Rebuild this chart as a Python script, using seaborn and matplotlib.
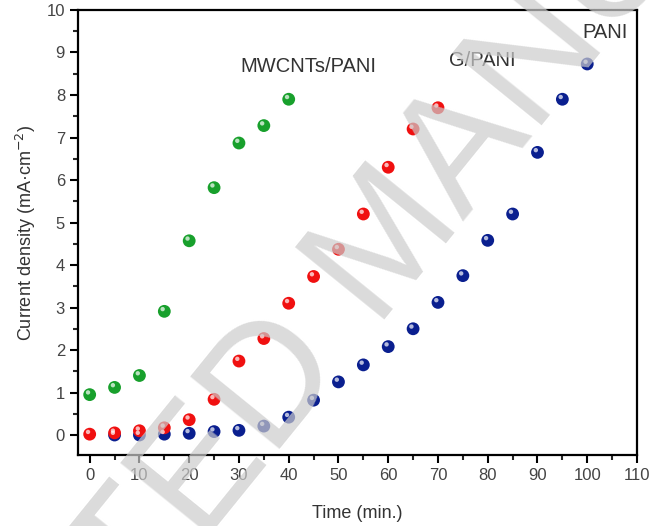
import numpy as np
import pandas as pd
import matplotlib
matplotlib.use("Agg")
import matplotlib.pyplot as plt
import matplotlib.transforms as mtransforms
from matplotlib.ticker import MultipleLocator
import seaborn as sns

# values
time_mw = [0, 5, 10, 15, 20, 25, 30, 35, 40]
mwcnt_pani = [0.95, 1.12, 1.40, 2.91, 4.57, 5.82, 6.87, 7.28, 7.90]

time_g = [0, 5, 10, 15, 20, 25, 30, 35, 40, 45, 50, 55, 60, 65, 70]
g_pani = [0.02, 0.05, 0.10, 0.17, 0.36, 0.84, 1.74, 2.27, 3.10, 3.73, 4.37, 5.20, 6.30, 7.20, 7.70]

time_p = [5, 10, 15, 20, 25, 30, 35, 40, 45, 50, 55, 60, 65, 70, 75, 80, 85, 90, 95, 100]
pani = [0.0, 0.0, 0.02, 0.04, 0.08, 0.11, 0.21, 0.42, 0.82, 1.25, 1.65, 2.08, 2.50, 3.12,
        3.75, 4.58, 5.20, 6.65, 7.90, 8.73]

series = ["PANI", "G/PANI", "MWCNTs/PANI"]
colors = {"PANI": "#0a1f8f", "G/PANI": "#f01010", "MWCNTs/PANI": "#18a02c"}

df = pd.concat([
    pd.DataFrame({"time": time_p, "j": pani, "sample": "PANI"}),
    pd.DataFrame({"time": time_g, "j": g_pani, "sample": "G/PANI"}),
    pd.DataFrame({"time": time_mw, "j": mwcnt_pani, "sample": "MWCNTs/PANI"}),
])

sns.set_style("ticks")
plt.rcParams["font.family"] = ["Liberation Sans", "DejaVu Sans"]

fig = plt.figure(figsize=(6.52, 5.26), dpi=100)
ax = fig.add_axes([0.12, 0.135, 0.857, 0.846])

sns.scatterplot(data=df, x="time", y="j", hue="sample", hue_order=series,
                palette=colors, s=85, edgecolor="none", legend=False, ax=ax, zorder=3)
# small highlight to mimic the shaded spheres
hl = mtransforms.offset_copy(ax.transData, fig=fig, x=-1.2, y=1.6, units="points")
ax.scatter(df["time"], df["j"], s=10, color="white", alpha=0.7,
           edgecolor="none", transform=hl, zorder=4)

ax.set_xlim(-2.3, 110)
ax.set_ylim(-0.47, 10)
ax.xaxis.set_major_locator(MultipleLocator(10))
ax.xaxis.set_minor_locator(MultipleLocator(5))
ax.yaxis.set_major_locator(MultipleLocator(1))
ax.yaxis.set_minor_locator(MultipleLocator(0.5))
ax.tick_params(which="major", direction="out", length=6, width=1.5,
               labelsize=12, colors="black")
ax.tick_params(which="minor", direction="out", length=3.5, width=1.5)
ax.tick_params(axis="both", labelcolor="#444444")
for sp in ax.spines.values():
    sp.set_linewidth(1.6)
    sp.set_color("black")

ax.set_xlabel("Time (min.)", fontsize=13, color="#333333", labelpad=16)
ax.set_ylabel("Current density (mA\u00b7cm$^{-2}$)", fontsize=13, color="#333333", labelpad=6)

ax.text(44.0, 8.68, "MWCNTs/PANI", fontsize=14.5, color="#333333", ha="center", va="center")
ax.text(79, 8.82, "G/PANI", fontsize=14.5, color="#333333", ha="center", va="center")
ax.text(103.5, 9.48, "PANI", fontsize=14.5, color="#333333", ha="center", va="center")

# watermark
fig.text(0.598, 0.534, "ACCEPTED MANUSCRIPT", fontsize=120, color="#cccccc", alpha=0.7,
         rotation=51, ha="center", va="center", rotation_mode="anchor", zorder=10)

fig.savefig("out.png", dpi=100)
